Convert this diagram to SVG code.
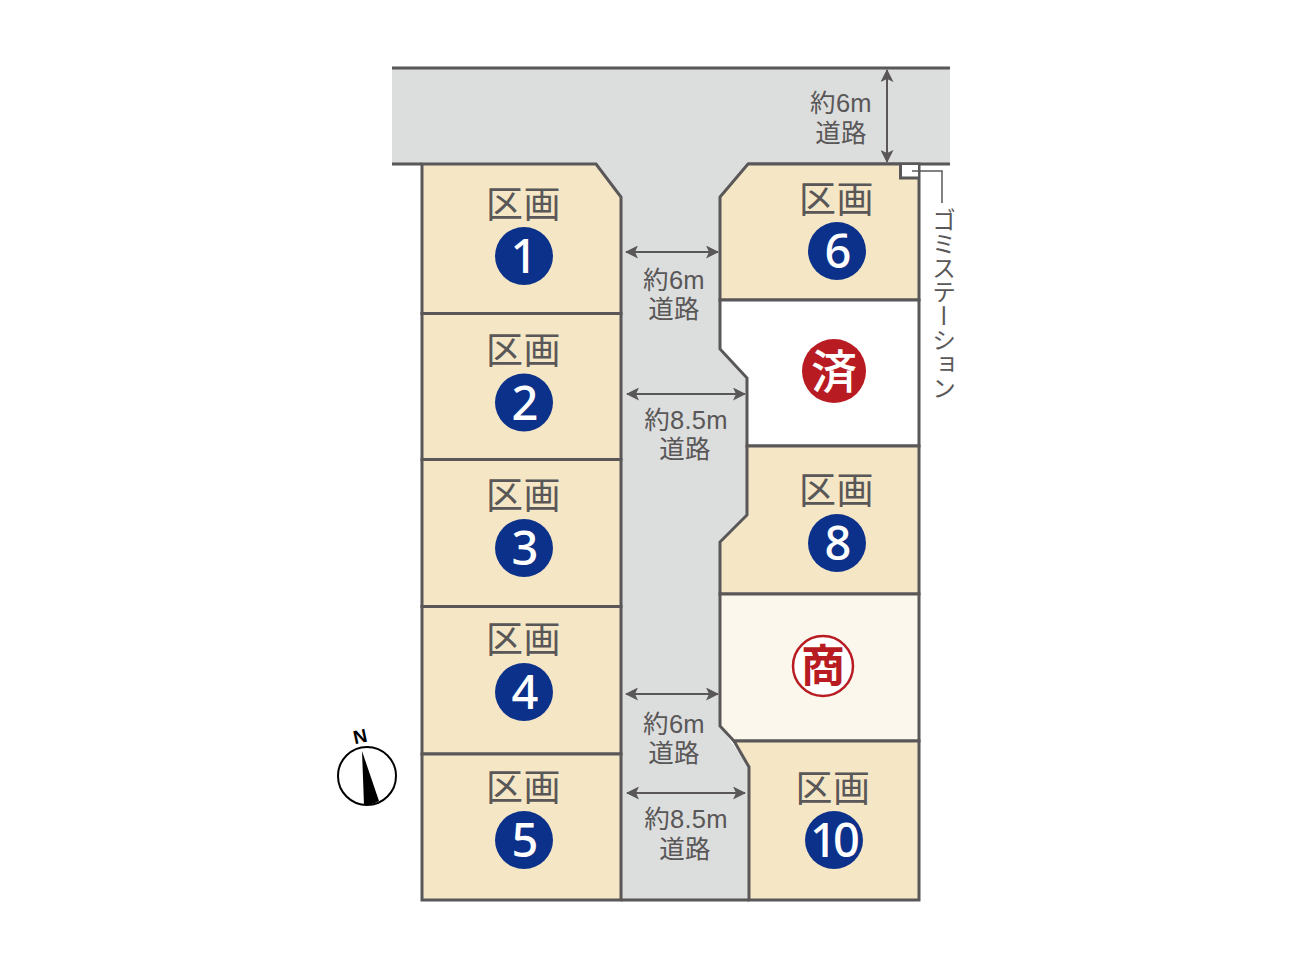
<svg xmlns="http://www.w3.org/2000/svg" width="1292" height="969" viewBox="0 0 1292 969">
<style>
.lot{fill:#f5e7c6;stroke:#595757;stroke-width:3;stroke-linejoin:miter}
.line{fill:none;stroke:#595757;stroke-width:3}
.ku{font-family:"Noto Sans CJK JP",sans-serif;font-weight:400;font-size:37px;letter-spacing:0.500px;fill:#595757;text-anchor:middle}
.num{font-family:"Noto Sans","Liberation Sans",sans-serif;font-weight:500;font-size:47px;fill:#fff;text-anchor:middle}
.badge{fill:#0b318a}
.lab{font-family:"Liberation Sans","Noto Sans CJK JP",sans-serif;font-weight:400;font-size:25.500px;letter-spacing:0.300px;fill:#595757;text-anchor:middle}
.arr{fill:none;stroke:#595757;stroke-width:2;marker-start:url(#ah);marker-end:url(#ah)}
</style>
<defs>
<marker id="ah" viewBox="0 0 13 13" refX="12" refY="6.500" markerWidth="13" markerHeight="13" markerUnits="userSpaceOnUse" orient="auto-start-reverse"><path d="M0 0L13 6.500L0 13L3 6.500Z" fill="#595757"/></marker>
</defs>
<rect width="1292" height="969" fill="#fff"/>
<g id="road">
<path d="M392 68H950V164H748L720 197V349L747 378V515L720 542V726L749 767V900H621V197L596 164H392Z" fill="#dcdddd"/>
<path class="line" d="M392 68H950M392 164H422M748 164H950M621 900H749"/>
</g>
<g id="lot1"><path class="lot" d="M422 164H596L621 197V313.500H422Z"/><text class="ku" x="523.500" y="218">区画</text><circle class="badge" cx="524" cy="256" r="29"/><text class="num" x="524" y="273">1</text></g>
<g id="lot2"><path class="lot" d="M422 313.500H621V459.500H422Z"/><text class="ku" x="523.500" y="364">区画</text><circle class="badge" cx="524" cy="402.500" r="29"/><text class="num" x="525" y="419.500">2</text></g>
<g id="lot3"><path class="lot" d="M422 459.500H621V606.500H422Z"/><text class="ku" x="523.500" y="509">区画</text><circle class="badge" cx="524" cy="548" r="29"/><text class="num" x="525" y="565">3</text></g>
<g id="lot4"><path class="lot" d="M422 606.500H621V754H422Z"/><text class="ku" x="523.500" y="653">区画</text><circle class="badge" cx="524" cy="692" r="29"/><text class="num" x="525" y="709">4</text></g>
<g id="lot5"><path class="lot" d="M422 754H621V900H422Z"/><text class="ku" x="523.500" y="801">区画</text><circle class="badge" cx="524" cy="840" r="29"/><text class="num" x="525" y="857">5</text></g>
<g id="lot6"><path class="lot" d="M748 164H919V300H720V197Z"/><rect x="900" y="165" width="18" height="13" fill="#fff"/><path class="line" d="M900.500 164V178H919"/><text class="ku" x="836.500" y="213">区画</text><circle class="badge" cx="837" cy="251" r="29"/><text class="num" x="838" y="268">6</text></g>
<g id="lot7"><path class="lot" style="fill:#fff" d="M720 300H919V446H747V378L720 349Z"/><circle cx="834" cy="371" r="32" fill="#b81c22"/><text x="834" y="388" font-family="'Noto Sans CJK JP',sans-serif" font-weight="500" font-size="46" fill="#fff" text-anchor="middle">済</text></g>
<g id="lot8"><path class="lot" d="M747 446H919V594H720V542L747 515Z"/><text class="ku" x="836.500" y="504">区画</text><circle class="badge" cx="837" cy="543" r="29"/><text class="num" x="838" y="560">8</text></g>
<g id="lot9"><path class="lot" style="fill:#fbf7ec" d="M720 594H919V741H734L720 726Z"/><circle cx="823" cy="666" r="30" fill="#fff" stroke="#b81c22" stroke-width="2.500"/><text x="823" y="682" font-family="'Noto Sans CJK JP',sans-serif" font-weight="700" font-size="44" fill="#b81c22" text-anchor="middle">商</text></g>
<g id="lot10"><path class="lot" d="M734 741H919V900H749V767Z"/><text class="ku" x="833" y="802">区画</text><circle class="badge" cx="834" cy="840" r="29"/><text class="num" x="833" y="857" letter-spacing="-4">10</text></g>
<g id="connectors">
<line class="arr" x1="887" y1="70" x2="887" y2="162"/>
<line class="arr" x1="626" y1="252" x2="718" y2="252"/>
<line class="arr" x1="627" y1="394" x2="745" y2="394"/>
<line class="arr" x1="626" y1="694" x2="718" y2="694"/>
<line class="arr" x1="627" y1="793" x2="745" y2="793"/>
<path d="M912 171H942V203" fill="none" stroke="#595757" stroke-width="1.500"/>
</g>
<g id="labels">
<text class="lab"><tspan x="841" y="112">約6m</tspan><tspan x="841" y="142">道路</tspan></text>
<text class="lab"><tspan x="674" y="289">約6m</tspan><tspan x="674" y="318">道路</tspan></text>
<text class="lab"><tspan x="686" y="429">約8.5m</tspan><tspan x="685" y="458">道路</tspan></text>
<text class="lab"><tspan x="674" y="733">約6m</tspan><tspan x="674" y="762">道路</tspan></text>
<text class="lab"><tspan x="686" y="828">約8.5m</tspan><tspan x="685" y="858">道路</tspan></text>
<text x="944" y="208" style="writing-mode:vertical-rl" font-family="'Noto Sans CJK JP',sans-serif" font-weight="400" font-size="24" fill="#595757">ゴミステーション</text>
</g>
<g id="compass">
<circle cx="367" cy="776" r="29" fill="#fff" stroke="#000" stroke-width="2"/>
<path d="M362 751L379 801Q372 805 364 805Z" fill="#000"/>
<text x="360" y="743" transform="rotate(-12 360 736)" font-family="'Liberation Sans',sans-serif" font-weight="700" font-size="19" fill="#000" text-anchor="middle">N</text>
</g>
</svg>
